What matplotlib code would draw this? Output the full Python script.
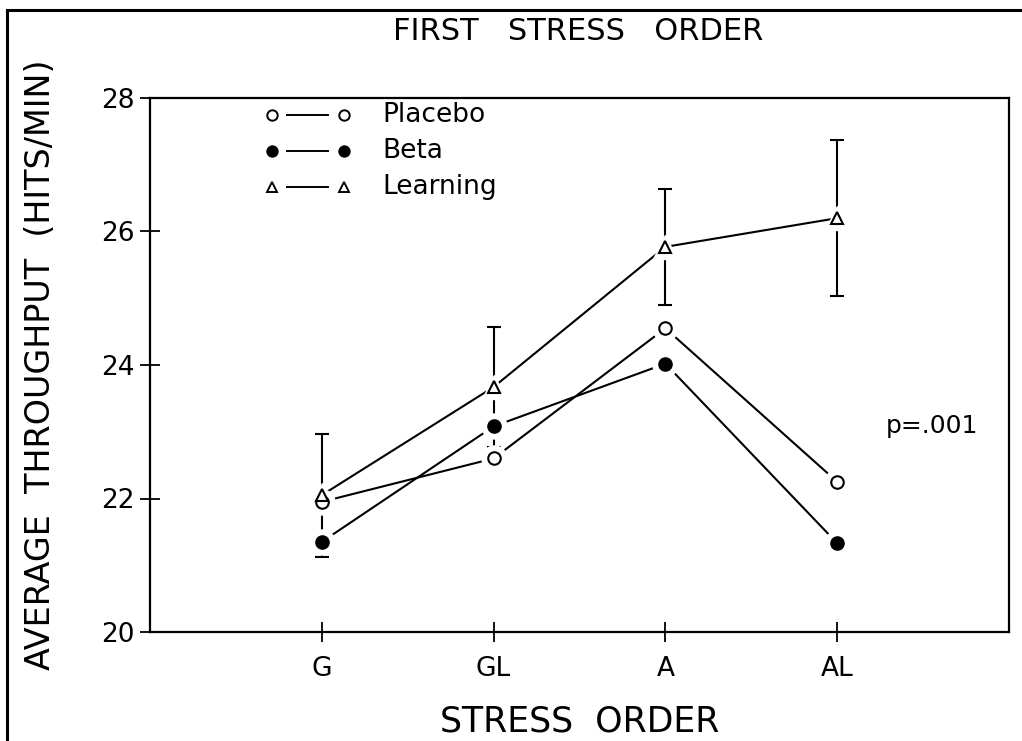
import matplotlib
matplotlib.use("Agg")
import matplotlib.pyplot as plt
from matplotlib.lines import Line2D

# data
stress_order = ["G", "GL", "A", "AL"]
placebo = [21.95, 22.60, 24.55, 22.25]
beta = [21.35, 23.08, 24.02, 21.33]
learning = [22.05, 23.67, 25.77, 26.20]
learning_err = [0.92, 0.90, 0.87, 1.17]
y_ticks = [20, 22, 24, 26, 28]

series = [
    ("Placebo", placebo, "o", "white", 9),
    ("Beta", beta, "o", "black", 9),
    ("Learning", learning, "^", "white", 8),
]

plt.rcParams['font.family'] = ['DejaVu Sans']

fig = plt.figure(figsize=(10.22, 7.41), dpi=100)
ax = fig.add_axes([150 / 1022, 109 / 741, 859 / 1022, 534 / 741])
xs = list(range(1, len(stress_order) + 1))

# lines and error bars first
for name, ys, marker, face, ms in series:
    ax.plot(xs, ys, color='black', lw=1.5, zorder=2)
ax.errorbar(xs, learning, yerr=learning_err, fmt='none', ecolor='black',
            elinewidth=1.5, capsize=5, capthick=1.5, zorder=2)

# white halos give the small gaps around the symbols
for name, ys, marker, face, ms in series:
    ax.plot(xs, ys, ls='none', marker=marker, ms=ms + 9, mfc='white',
            mec='white', zorder=3)
for name, ys, marker, face, ms in series:
    ax.plot(xs, ys, ls='none', marker=marker, ms=ms, mfc=face,
            mec='black', mew=1.5, zorder=4)

# hand-drawn style legend (symbol - line - symbol, label)
leg_rows = [0.968, 0.901, 0.833]
for (name, ys, marker, face, ms), yy in zip(series, leg_rows):
    ax.plot([0.142, 0.226], [yy, yy], ls='none', marker=marker, ms=ms - 1.5,
            mfc=face, mec='black', mew=1.4, transform=ax.transAxes, clip_on=False)
    ax.plot([0.160, 0.207], [yy, yy], color='black', lw=1.4,
            transform=ax.transAxes, clip_on=False)
    ax.text(0.270, yy, name, transform=ax.transAxes, fontsize=19,
            va='center', ha='left')

ax.text(0.857, 0.386, "p=.001", transform=ax.transAxes, fontsize=18,
        va='center', ha='left')

ax.set_xlim(0, 5)
ax.set_ylim(20, 28)
ax.set_xticks(xs)
ax.set_xticklabels(stress_order)
ax.set_yticks(y_ticks)
ax.set_yticklabels([str(t) for t in y_ticks])

for s in ax.spines.values():
    s.set_linewidth(1.6)
ax.tick_params(direction='inout', length=14, width=1.3, top=False, right=False)
ax.tick_params(axis='x', labelsize=19, pad=10)
ax.tick_params(axis='y', labelsize=19, pad=4)

ax.set_xlabel("STRESS  ORDER", fontsize=25)
ax.xaxis.set_label_coords(0.5, -0.135)
ax.set_ylabel("AVERAGE  THROUGHPUT  (HITS/MIN)", fontsize=24)
ax.yaxis.set_label_coords(-0.108, 0.5)

fig.text(578 / 1022, 1 - 40 / 741, "FIRST   STRESS   ORDER", fontsize=22,
         ha='center', va='baseline')

# page border from the scan
fig.add_artist(Line2D([7 / 1022, 7 / 1022], [0, 1 - 10 / 741],
                      transform=fig.transFigure, color='black', lw=2.2))
fig.add_artist(Line2D([7 / 1022, 1], [1 - 10 / 741, 1 - 10 / 741],
                      transform=fig.transFigure, color='black', lw=2.2))

fig.savefig("out.png", dpi=100, facecolor='white')
